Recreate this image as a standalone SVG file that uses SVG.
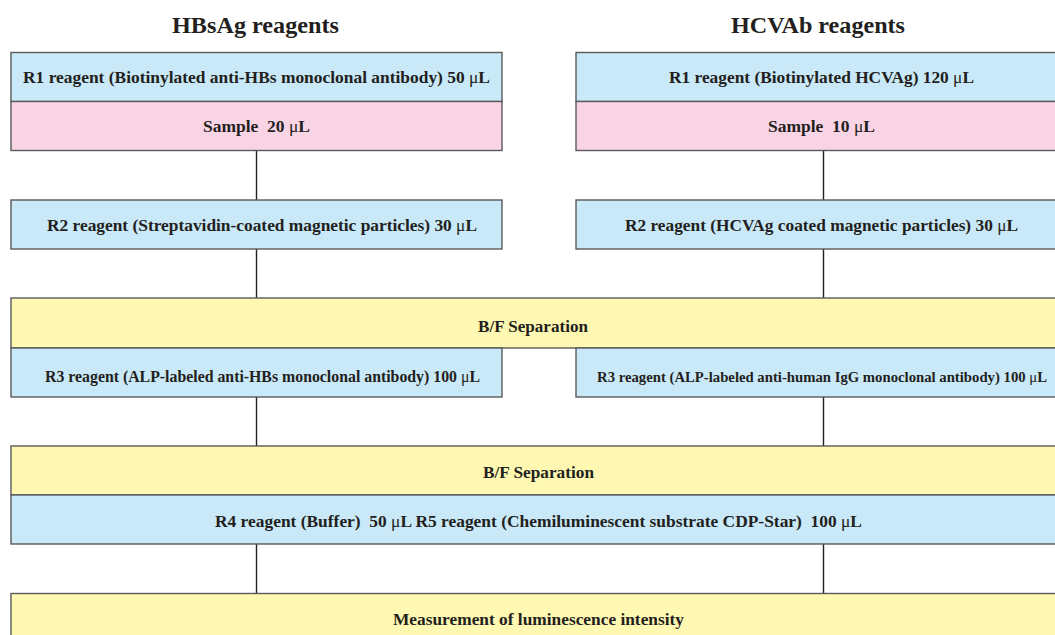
<svg xmlns="http://www.w3.org/2000/svg" width="1055" height="635" viewBox="0 0 1055 635">
<style>
.box{stroke:#5a5a5a;stroke-width:1.4}
.blue{fill:#c9e9f8}
.pink{fill:#f9d4e5}
.yellow{fill:#fff8b2}
text{font-family:"Liberation Serif","Times New Roman",serif;font-weight:bold;fill:#231f20;text-anchor:middle;white-space:pre}
.t{font-size:17px}
.s{font-size:15.5px}
.h{font-size:23px}
.mu{font-weight:normal}
.conn{stroke:#231f20;stroke-width:1.4;fill:none}
</style>
<rect width="1055" height="635" fill="#ffffff"/>
<g id="titles">
<text class="h" x="255.5" y="33" textLength="167" lengthAdjust="spacingAndGlyphs">HBsAg reagents</text>
<text class="h" x="818" y="33" textLength="174" lengthAdjust="spacingAndGlyphs">HCVAb reagents</text>
</g>
<g id="connectors">
<line class="conn" x1="256.5" y1="151" x2="256.5" y2="200"/>
<line class="conn" x1="256.5" y1="249" x2="256.5" y2="298"/>
<line class="conn" x1="256.5" y1="397" x2="256.5" y2="446"/>
<line class="conn" x1="256.5" y1="544" x2="256.5" y2="593"/>
<line class="conn" x1="823.5" y1="151" x2="823.5" y2="200"/>
<line class="conn" x1="823.5" y1="249" x2="823.5" y2="298"/>
<line class="conn" x1="823.5" y1="397" x2="823.5" y2="446"/>
<line class="conn" x1="823.5" y1="544" x2="823.5" y2="593"/>
</g>
<g id="hbs-r1"><rect class="box blue" x="11" y="52.5" width="491" height="49"/><text class="t" x="256.5" y="83" textLength="467" lengthAdjust="spacingAndGlyphs">R1 reagent (Biotinylated anti-HBs monoclonal antibody) 50 <tspan class="mu">μ</tspan>L</text></g>
<g id="hbs-sample"><rect class="box pink" x="11" y="101.5" width="491" height="49"/><text class="t" x="256.5" y="132" textLength="107" lengthAdjust="spacingAndGlyphs">Sample  20 <tspan class="mu">μ</tspan>L</text></g>
<g id="hbs-r2"><rect class="box blue" x="11" y="200" width="491" height="49"/><text class="t" x="262" y="231" textLength="430" lengthAdjust="spacingAndGlyphs">R2 reagent (Streptavidin-coated magnetic particles) 30 <tspan class="mu">μ</tspan>L</text></g>
<g id="hcv-r1"><rect class="box blue" x="576" y="52.5" width="494" height="49"/><text class="t" x="821.5" y="83" textLength="305" lengthAdjust="spacingAndGlyphs">R1 reagent (Biotinylated HCVAg) 120 <tspan class="mu">μ</tspan>L</text></g>
<g id="hcv-sample"><rect class="box pink" x="576" y="101.5" width="494" height="49"/><text class="t" x="821.5" y="132" textLength="107" lengthAdjust="spacingAndGlyphs">Sample  10 <tspan class="mu">μ</tspan>L</text></g>
<g id="hcv-r2"><rect class="box blue" x="576" y="200" width="494" height="49"/><text class="t" x="821.5" y="231" textLength="393" lengthAdjust="spacingAndGlyphs">R2 reagent (HCVAg coated magnetic particles) 30 <tspan class="mu">μ</tspan>L</text></g>
<g id="bf1"><rect class="box yellow" x="11" y="298" width="1060" height="50"/><text class="t" x="533" y="332" textLength="110" lengthAdjust="spacingAndGlyphs">B/F Separation</text></g>
<g id="hbs-r3"><rect class="box blue" x="11" y="348" width="491" height="49"/><text class="t" x="262.5" y="382" textLength="435" lengthAdjust="spacingAndGlyphs">R3 reagent (ALP-labeled anti-HBs monoclonal antibody) 100 <tspan class="mu">μ</tspan>L</text></g>
<g id="hcv-r3"><rect class="box blue" x="576" y="348" width="494" height="49"/><text class="s" x="822" y="381.5" textLength="450" lengthAdjust="spacingAndGlyphs">R3 reagent (ALP-labeled anti-human IgG monoclonal antibody) 100 <tspan class="mu">μ</tspan>L</text></g>
<g id="bf2"><rect class="box yellow" x="11" y="446" width="1060" height="49"/><text class="t" x="538.5" y="478" textLength="111" lengthAdjust="spacingAndGlyphs">B/F Separation</text></g>
<g id="r4r5"><rect class="box blue" x="11" y="495" width="1060" height="49"/><text class="t" x="538.5" y="527" textLength="647" lengthAdjust="spacingAndGlyphs">R4 reagent (Buffer)  50 <tspan class="mu">μ</tspan>L R5 reagent (Chemiluminescent substrate CDP-Star)  100 <tspan class="mu">μ</tspan>L</text></g>
<g id="measure"><rect class="box yellow" x="11" y="593.5" width="1060" height="60"/><text class="t" x="538.5" y="625" textLength="291" lengthAdjust="spacingAndGlyphs">Measurement of luminescence intensity</text></g>
</svg>
